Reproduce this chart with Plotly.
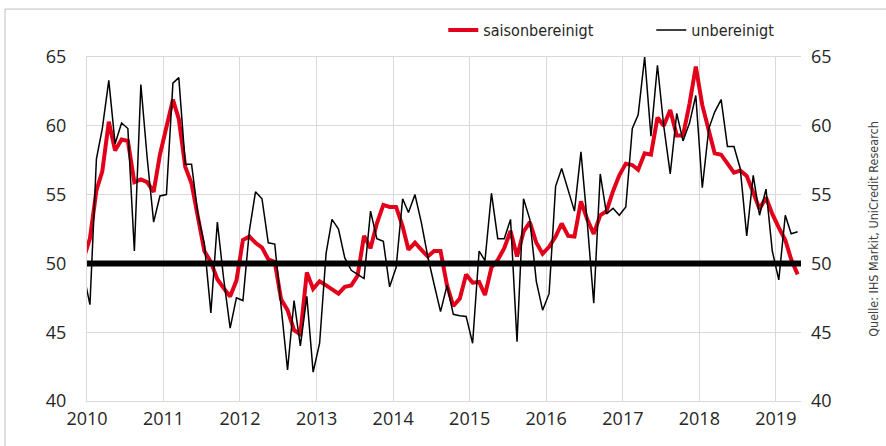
import pandas as pd
import plotly.graph_objects as go

# Monthly observations, Dec 2009 .. Apr 2019 (plotted at mid-month)
start_month = "2009-12-01"

unbereinigt = [
    49.3,
    47.0, 57.6, 59.8, 63.3, 58.7, 60.2, 59.8, 50.9, 63.0, 57.7, 53.0, 54.9,
    55.0, 63.1, 63.5, 57.2, 57.2, 53.5, 51.4, 46.4, 53.0, 48.9, 45.3, 47.5,
    47.3, 52.4, 55.2, 54.7, 51.5, 51.4, 46.8, 42.25, 47.3, 44.0, 47.6, 42.1,
    44.2, 50.75, 53.2, 52.5, 50.4, 49.5, 49.2, 48.9, 53.8, 51.8, 51.6, 48.3,
    49.7, 54.7, 53.7, 55.0, 53.0, 50.5, 48.5, 46.5, 48.4, 46.3, 46.2, 46.15,
    44.2, 50.9, 50.2, 55.1, 51.8, 51.8, 53.2, 44.3, 54.7, 53.2, 48.7, 46.6,
    47.8, 55.6, 56.9, 55.3, 53.8, 58.1, 53.0, 47.1, 56.5, 53.6, 54.0, 53.5,
    54.1, 59.8, 60.8, 65.0, 59.25, 64.4, 60.0, 56.5, 60.9, 58.9, 60.2, 62.2,
    55.5, 59.8, 61.0, 61.9, 58.5, 58.5, 56.9, 52.0, 56.4, 53.5, 55.4, 50.9,
    48.8, 53.5, 52.15, 52.3,
]

saisonbereinigt = [
    50.3,
    51.8, 55.3, 56.7, 60.3, 58.2, 59.0, 58.9, 55.9, 56.1, 55.9, 55.2, 57.9,
    60.0, 61.9, 60.5, 57.0, 55.8, 53.4, 50.9, 50.1, 48.85, 48.2, 47.6, 48.75,
    51.7, 51.95, 51.5, 51.15, 50.3, 50.1, 47.4, 46.6, 45.15, 44.85, 49.35, 48.15,
    48.7, 48.4, 48.1, 47.8, 48.3, 48.4, 49.1, 52.0, 51.1, 52.9, 54.25, 54.1,
    54.1, 52.7, 51.0, 51.5, 51.0, 50.5, 50.9, 50.9, 48.4, 46.9, 47.45, 49.2,
    48.6, 48.65, 47.7, 49.7, 50.25, 51.1, 52.35, 50.5, 52.3, 53.0, 51.5, 50.7,
    51.2, 51.95, 52.9, 52.0, 51.95, 54.5, 53.2, 52.15, 53.5, 53.8, 55.25, 56.4,
    57.25, 57.15, 56.8, 58.0, 57.9, 60.6, 60.0, 61.15, 59.3, 59.3, 61.6, 64.3,
    61.5, 59.65, 58.0, 57.9, 57.25, 56.6, 56.75, 56.35, 55.15, 53.95, 54.8, 53.6,
    52.6, 51.7, 50.3, 49.2,
]

years = [str(y) for y in range(2010, 2020)]
y_ticks = [40, 45, 50, 55, 60, 65]
THRESHOLD = 50
series_names = ["saisonbereinigt", "unbereinigt"]
source_text = "Quelle: IHS Markit, UniCredit Research"

dates = pd.date_range(start_month, periods=len(unbereinigt), freq="MS") + pd.Timedelta(days=14)

RED = "#E2001A"
GRID = "#D9D9D9"
TXT = "#262626"
NARROW = "Liberation Sans Narrow, DejaVu Sans Condensed, Arial Narrow, Liberation Sans, sans-serif"
TICKFONT = dict(family="Open Sans", size=18, color=TXT)

fig = go.Figure()
fig.add_trace(go.Scatter(x=dates, y=saisonbereinigt, mode="lines", name=series_names[0],
                         line=dict(color=RED, width=4)))
fig.add_trace(go.Scatter(x=dates, y=unbereinigt, mode="lines", name=series_names[1],
                         line=dict(color="black", width=1.5)))
# invisible trace to activate the right axis
fig.add_trace(go.Scatter(x=dates[:1], y=unbereinigt[:1], yaxis="y2", mode="lines",
                         line=dict(width=0), showlegend=False, hoverinfo="skip", opacity=0))

fig.update_layout(
    width=886, height=446,
    margin=dict(l=87, r=85, t=57, b=45, autoexpand=False),
    paper_bgcolor="white", plot_bgcolor="white",
    showlegend=True,
    legend=dict(orientation="h", x=0.499, xanchor="left", y=1.078, yanchor="middle",
                font=dict(family=NARROW, size=16, color=TXT),
                entrywidth=163, entrywidthmode="pixels",
                tracegroupgap=0, bgcolor="rgba(0,0,0,0)"),
    xaxis=dict(type="date", range=["2010-01-01", "2019-05-01"],
               tickvals=[f"{y}-01-01" for y in years], ticktext=years,
               showgrid=True, gridcolor=GRID, gridwidth=1,
               showline=True, linecolor=GRID, mirror=True, linewidth=1,
               ticks="", tickfont=TICKFONT, zeroline=False, ticklabelstandoff=1),
    yaxis=dict(range=[40, 65], tickvals=y_ticks, showgrid=True, gridcolor=GRID, gridwidth=1,
               showline=True, linecolor=GRID, linewidth=1, ticks="", tickfont=TICKFONT,
               zeroline=False, ticklabelstandoff=16),
    yaxis2=dict(range=[40, 65], tickvals=y_ticks, overlaying="y", side="right",
                showgrid=False, showline=False, ticks="", tickfont=TICKFONT,
                zeroline=False, ticklabelstandoff=9, automargin=False,
                title=dict(text=source_text, standoff=38,
                           font=dict(family=NARROW, size=12.5, color="#404040"))),
)

fig.add_shape(type="rect", xref="paper", yref="paper",
              x0=(5 - 87) / 714, x1=1.3, y0=-0.3, y1=1 + (57 - 9) / 344.6,
              line=dict(color="#BFBFBF", width=1), fillcolor="rgba(0,0,0,0)", layer="below")
fig.add_hline(y=THRESHOLD, line=dict(color="black", width=6), layer="above")

fig.write_html("out.html", config={"displayModeBar": False},
               post_script="document.body.style.margin='0';")
